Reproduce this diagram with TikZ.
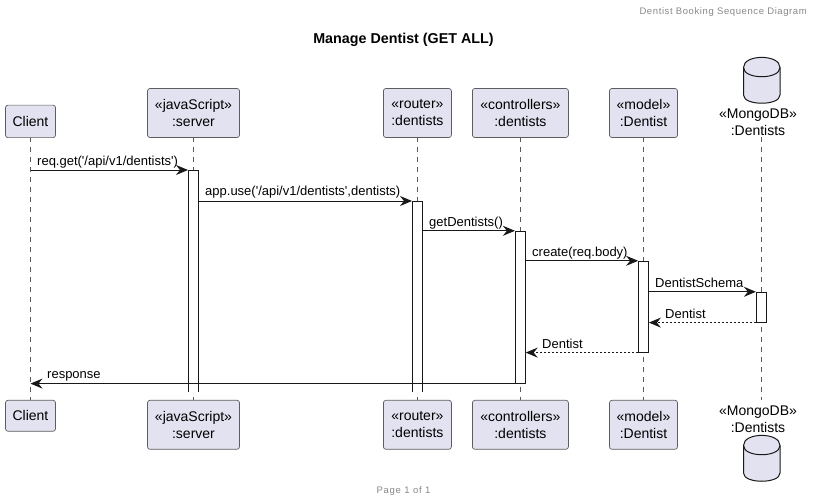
\documentclass[tikz,border=0pt]{standalone}
\usepackage{fontspec}
\setmainfont{Liberation Sans}
\newfontfamily\msgfont{Liberation Sans}
\usetikzlibrary{arrows.meta,positioning}
\definecolor{pfill}{HTML}{E2E2F0}
\definecolor{pline}{HTML}{181818}
\definecolor{lifec}{HTML}{5A5A5A}
\definecolor{headc}{HTML}{888888}
\tikzset{
  x=1pt,y=-1pt,
  part/.style={draw=pline!70,line width=.7pt,fill=pfill,rounded corners=2.5pt,inner sep=0pt,align=center,font=\fontsize{14}{17}\selectfont,text=black},
  life/.style={draw=lifec,line width=.6pt,dash pattern=on 5pt off 5pt},
  bar/.style={draw=pline,line width=.8pt,fill=white,inner sep=0pt,minimum width=10pt},
  openbar/.style={fill=white,inner sep=0pt,minimum width=10pt},
  barline/.style={draw=pline,line width=.8pt},
  msg/.style={draw=pline,line width=.9pt,-{Stealth[length=12pt,width=10pt,inset=4pt]}},
  ret/.style={msg,dash pattern=on 2pt off 2pt},
  lab/.style={font=\msgfont\fontsize{13}{15}\selectfont,inner sep=0pt,anchor=base west,text=black},
  dbl/.style={font=\fontsize{14}{17}\selectfont,inner sep=0pt,align=center,text=black},
  can/.style={draw=pline,line width=1pt,fill=pfill}
}
\begin{document}
\begin{tikzpicture}
\useasboundingbox (0,0) rectangle (814,502);
% lifelines
\coordinate (cT) at (30.5,137); \coordinate (cB) at (30.5,400);
\coordinate (sT) at (193,137);  \coordinate (sB) at (193,400);
\coordinate (rT) at (417,137);  \coordinate (rB) at (417,400);
\coordinate (kT) at (520,137);  \coordinate (kB) at (520,400);
\coordinate (mT) at (643.5,137);\coordinate (mB) at (643.5,400);
\coordinate (dT) at (761,137);  \coordinate (dB) at (761,400);
\foreach \n in {c,s,r,k,m,d} \draw[life] (\n T) -- (\n B);
% header and title
\node[font=\fontsize{9.5}{11}\selectfont,text=headc,anchor=base east,inner sep=0pt] (hdr) at (807,15) {\addfontfeature{LetterSpace=6.3}Dentist Booking Sequence Diagram};
\node[font=\bfseries\fontsize{14.3}{16}\selectfont,anchor=base,inner sep=0pt] (ttl) at (403.5,43.5) {Manage Dentist (GET ALL)};
\node[font=\fontsize{9.5}{11}\selectfont,text=headc,anchor=base,inner sep=0pt] (ftr) at (403.5,493) {\addfontfeature{LetterSpace=8}Page 1 of 1};
% participants top
\node[part,minimum width=50pt,minimum height=32.5pt] (cTop) at (30.5,121.4) {Client};
\node[part,minimum width=92pt,minimum height=49pt] (sTop) at (193.5,113) {«javaScript»\\:server};
\node[part,minimum width=68pt,minimum height=49pt] (rTop) at (417.4,113) {«router»\\:dentists};
\node[part,minimum width=96pt,minimum height=49pt] (kTop) at (520.4,113) {«controllers»\\:dentists};
\node[part,minimum width=68pt,minimum height=49pt] (mTop) at (643.5,113) {«model»\\:Dentist};
% participants bottom
\node[part,minimum width=50pt,minimum height=31pt] (cBot) at (30.5,415.8) {Client};
\node[part,minimum width=92pt,minimum height=49pt] (sBot) at (193.5,424.8) {«javaScript»\\:server};
\node[part,minimum width=68pt,minimum height=49pt] (rBot) at (417.4,424.8) {«router»\\:dentists};
\node[part,minimum width=96pt,minimum height=49pt] (kBot) at (520.4,424.8) {«controllers»\\:dentists};
\node[part,minimum width=68pt,minimum height=49pt] (mBot) at (643.5,424.8) {«model»\\:Dentist};
% database
\node[dbl] (dTop) at (758,122) {«MongoDB»\\:Dentists};
\node[dbl] (dBot) at (758,419) {«MongoDB»\\:Dentists};
\draw[can] (743.5,67.5) .. controls (743.5,54) and (780,54) .. (780,67.5) -- (780,95) .. controls (780,106) and (743.5,106) .. (743.5,95) -- cycle;
\draw[can,fill=none] (743.5,67.5) .. controls (743.5,79.8) and (780,79.8) .. (780,67.5);
\draw[can] (743.5,445.5) .. controls (743.5,432) and (780,432) .. (780,445.5) -- (780,473) .. controls (780,484) and (743.5,484) .. (743.5,473) -- cycle;
\draw[can,fill=none] (743.5,445.5) .. controls (743.5,457.8) and (780,457.8) .. (780,445.5);
% activations
\node[openbar,minimum height=222pt] (aS) at (193.2,281.2) {};
\draw[barline] (aS.south west) -- (aS.north west) -- (aS.north east) -- (aS.south east);
\node[openbar,minimum height=191pt] (aR) at (417.2,296.7) {};
\draw[barline] (aR.south west) -- (aR.north west) -- (aR.north east) -- (aR.south east);
\node[bar,minimum height=152pt] (aK) at (520.3,307.2) {};
\node[bar,minimum height=91pt] (aM) at (643.5,306.7) {};
\node[bar,minimum height=30pt] (aD) at (761.3,307.2) {};
% messages
\coordinate (c1) at (30.5,170.2); \coordinate (c8) at (30.5,383.2);
\draw[msg] (c1 |- aS.north) -- (aS.north west);
\draw[msg] (aS.east |- aR.north) -- (aR.north west);
\draw[msg] (aR.east |- aK.north) -- (aK.north west);
\draw[msg] (aK.east |- aM.north) -- (aM.north west);
\draw[msg] (aM.east |- aD.north) -- (aD.north west);
\draw[ret] (aD.south west) -- (aM.east |- aD.south);
\draw[ret] (aM.south west) -- (aK.east |- aM.south);
\draw[msg] (aK.south west) -- (c8 |- aK.south);
% labels
\node[lab] (l1) at (37,166) {req.get('/api/v1/dentists')};
\node[lab] (l2) at (205,196) {app.use('/api/v1/dentists',dentists)};
\node[lab] (l3) at (429,227) {getDentists()};
\node[lab] (l4) at (532,257) {create(req.body)};
\node[lab] (l5) at (655,288) {DentistSchema};
\node[lab] (l6) at (665,318.5) {Dentist};
\node[lab] (l7) at (542,349) {Dentist};
\node[lab] (l8) at (47,378.5) {response};
\end{tikzpicture}
\end{document}
